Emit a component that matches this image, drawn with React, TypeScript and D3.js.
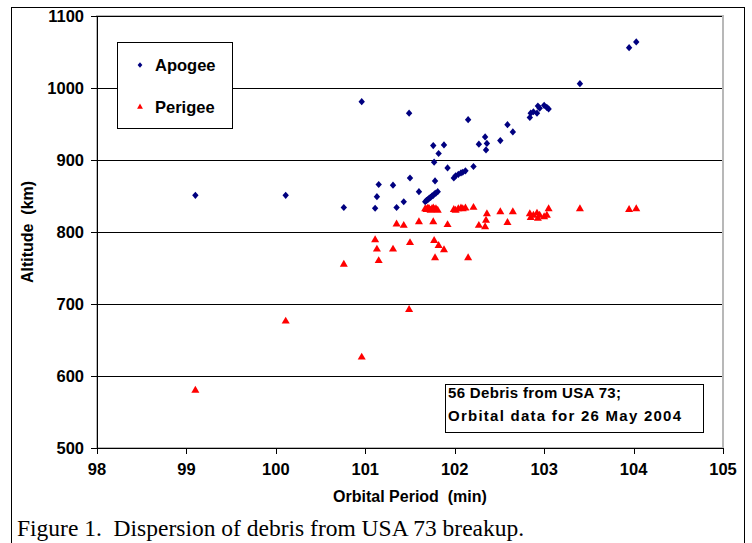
import React from 'react';
import * as d3 from 'd3';

// orbital period (min) of each debris piece, with its apogee and perigee (km)
const period = [
  99.1, 100.11, 100.76, 100.96, 101.11, 101.13, 101.15, 101.31, 101.35, 101.43,
  101.49, 101.5, 101.6, 101.67, 101.685, 101.7, 101.715, 101.73, 101.745, 101.76,
  101.775, 101.79, 101.81, 101.76, 101.77, 101.78, 101.82, 101.88, 101.92, 101.99,
  102.01, 102.04, 102.07, 102.09, 102.12, 102.15, 102.21, 102.27, 102.34, 102.36,
  102.35, 102.51, 102.59, 102.65, 102.84, 102.85, 102.88, 102.92, 102.93, 102.95,
  103.0, 103.03, 103.05, 103.4, 103.95, 104.03,
];
const apogee = [
  851, 851, 834, 981, 833, 849, 866, 865, 834, 842,
  965, 875, 856, 842, 844, 845, 847, 848, 850, 851,
  853, 854, 856, 920, 897, 871, 909, 921, 889, 875,
  878, 880, 882, 883, 885, 956, 891, 922, 932, 923,
  914, 927, 949, 939, 959, 965, 967, 965, 975, 972,
  976, 973, 971, 1006, 1056, 1064,
];
const perigee = [
  580, 676, 755, 626, 789, 776, 760, 776, 811, 809,
  692, 785, 814, 832, 831, 833, 832, 830, 832, 833,
  831, 832, 830, 814, 788, 764, 781, 775, 810, 831,
  830, 832, 833, 832, 833, 764, 834, 809, 807, 825,
  816, 828, 813, 828, 825, 820, 823, 826, 819, 823,
  821, 823, 832, 832, 831, 832,
];

const xTicks = [98, 99, 100, 101, 102, 103, 104, 105];
const yTicks = [500, 600, 700, 800, 900, 1000, 1100];

const legendItems = ['Apogee', 'Perigee'];
const noteLines = ['56 Debris from USA 73;', 'Orbital data for 26 May 2004'];
const caption = 'Figure 1.  Dispersion of debris from USA 73 breakup.';

const sans = '"Liberation Sans", Arial, sans-serif';
const serif = '"Liberation Serif", "Times New Roman", serif';

export default function App() {
  const width = 752;
  const height = 543;
  const plot = { left: 97, right: 723, top: 16, bottom: 448 };

  const x = d3.scaleLinear().domain([98, 105]).range([plot.left, plot.right]);
  const y = d3.scaleLinear().domain([500, 1100]).range([plot.bottom, plot.top]);

  const tri = d3.symbol(d3.symbolTriangle, 28)() as string;
  const triSmall = d3.symbol(d3.symbolTriangle, 15)() as string;
  const diamond = 'M0,-3.6L3.2,0L0,3.6L-3.2,0Z';
  const diamondSmall = 'M0,-2.7L2.4,0L0,2.7L-2.4,0Z';

  // widths of the note lines as they appear
  const noteWidths = [173, 233];

  return (
    <svg
      width={width}
      height={height}
      style={{ position: 'absolute', left: 0, top: 0, background: '#fff' }}
    >
      {/* outer frame */}
      <rect x={11.5} y={7.5} width={733} height={560} fill="#fff" stroke="#000" />

      {/* plot area border */}
      <rect
        x={plot.left}
        y={plot.top}
        width={plot.right - plot.left}
        height={plot.bottom - plot.top}
        fill="#fff"
        stroke="#b8b8b8"
        strokeWidth={2}
      />

      {/* gridlines */}
      {yTicks.slice(1).map((t) => (
        <line
          key={t}
          x1={plot.left}
          x2={plot.right - 1}
          y1={Math.round(y(t)) + 0.5}
          y2={Math.round(y(t)) + 0.5}
          stroke="#000"
          strokeWidth={1}
        />
      ))}

      {/* axes */}
      <line x1={plot.left + 0.5} x2={plot.left + 0.5} y1={plot.top} y2={plot.bottom + 1} stroke="#000" />
      <line x1={plot.left} x2={plot.right} y1={plot.bottom + 0.5} y2={plot.bottom + 0.5} stroke="#000" />
      {yTicks.map((t) => (
        <g key={t}>
          <line
            x1={plot.left - 6}
            x2={plot.left}
            y1={Math.round(y(t)) + 0.5}
            y2={Math.round(y(t)) + 0.5}
            stroke="#000"
          />
          <text
            x={84}
            y={y(t)}
            dy="0.36em"
            textAnchor="end"
            fontFamily={sans}
            fontWeight="bold"
            fontSize={16.5}
          >
            {t}
          </text>
        </g>
      ))}
      {xTicks.map((t) => (
        <g key={t}>
          <line
            x1={Math.round(x(t)) + 0.5}
            x2={Math.round(x(t)) + 0.5}
            y1={plot.bottom}
            y2={plot.bottom + 6}
            stroke="#000"
          />
          <text
            x={x(t)}
            y={475}
            textAnchor="middle"
            fontFamily={sans}
            fontWeight="bold"
            fontSize={16.5}
          >
            {t}
          </text>
        </g>
      ))}
      <text
        x={410}
        y={502}
        textAnchor="middle"
        fontFamily={sans}
        fontWeight="bold"
        fontSize={16}
        style={{ whiteSpace: 'pre' }}
      >
        Orbital Period  (min)
      </text>
      <text
        transform="translate(33,232) rotate(-90)"
        textAnchor="middle"
        fontFamily={sans}
        fontWeight="bold"
        fontSize={16}
        style={{ whiteSpace: 'pre' }}
      >
        Altitude  (km)
      </text>

      {/* points */}
      {period.map((p, i) => (
        <path key={'a' + i} d={diamond} transform={`translate(${x(p)},${y(apogee[i])})`} fill="#000080" />
      ))}
      {period.map((p, i) => (
        <path key={'p' + i} d={tri} transform={`translate(${x(p)},${y(perigee[i])})`} fill="#ff0000" />
      ))}

      {/* legend */}
      <rect x={117.5} y={42.5} width={115} height={86} fill="#fff" stroke="#000" />
      {legendItems.map((name, i) => (
        <g key={name} transform={`translate(140,${65 + i * 42})`}>
          <path d={i === 0 ? diamondSmall : triSmall} fill={i === 0 ? '#000080' : '#ff0000'} />
          <text x={15} dy="0.36em" fontFamily={sans} fontWeight="bold" fontSize={16.5}>
            {name}
          </text>
        </g>
      ))}

      {/* note */}
      <rect x={445.5} y={384.5} width={258} height={48} fill="#fff" stroke="#000" />
      {noteLines.map((line, i) => (
        <text
          key={i}
          x={448}
          y={398 + i * 23}
          fontFamily={sans}
          fontWeight="bold"
          fontSize={15}
          textLength={noteWidths[i]}
          lengthAdjust="spacing"
        >
          {line}
        </text>
      ))}

      {/* caption */}
      <text x={17} y={536} fontFamily={serif} fontSize={23.5} style={{ whiteSpace: 'pre' }}>
        {caption}
      </text>
    </svg>
  );
}
